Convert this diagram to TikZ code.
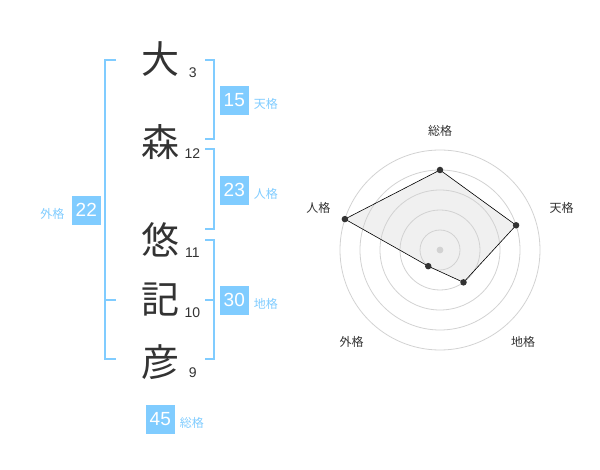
\documentclass[tikz,border=0pt]{standalone}
\usepackage{fontspec}
\setmainfont{Liberation Sans}
\newfontfamily\jpfont{Noto Sans CJK JP}
\usetikzlibrary{positioning}
\definecolor{kakublue}{RGB}{128,204,255}
\definecolor{inkgray}{RGB}{51,51,51}
\definecolor{ringgray}{RGB}{210,210,210}
\tikzset{
  kanji/.style = {font=\jpfont\fontsize{38}{38}\selectfont, text=inkgray, inner sep=0pt},
  strokes/.style = {font=\fontsize{14}{14}\selectfont, text=inkgray, inner sep=0pt},
  kakubox/.style = {fill=kakublue, text=white, minimum size=29pt, inner sep=0pt, font=\fontsize{19}{19}\selectfont},
  kakulabel/.style = {font=\jpfont\fontsize{12}{12}\selectfont, text=kakublue, inner sep=0pt},
  bracket/.style = {draw=kakublue, line width=1.8pt},
  ring/.style = {draw=ringgray, line width=0.8pt},
  radarlabel/.style = {font=\jpfont\fontsize{12}{12}\selectfont, text=inkgray, inner sep=0pt},
  dot/.style = {circle, fill=inkgray, minimum size=6.5pt, inner sep=0pt}
}
\begin{document}
\begin{tikzpicture}[x = 1pt, y = -1pt]
    \useasboundingbox (0,0) rectangle (600,470);
    % Draw the name
    \node[kanji] (k1) at (160,59.5) {大};
    \node[kanji] (k2) at (160,141.7) {森};
    \node[kanji] (k3) at (160,240) {悠};
    \node[kanji] (k4) at (160,300) {記};
    \node[kanji] (k5) at (160,361.7) {彦};
    % Stroke counts
    \node[strokes] (s1) at (192.7,72.7) {3};
    \node[strokes] (s2) at (192.3,153.3) {12};
    \node[strokes] (s3) at (192.3,252.7) {11};
    \node[strokes] (s4) at (192.3,312.7) {10};
    \node[strokes] (s5) at (192.7,372.7) {9};

    % Draw brackets
    \draw [bracket] (116,60) -- (105,60) -- (105,359.3) -- (116,359.3);
    \draw [bracket] (105,300) -- (116,300);
    \draw [bracket] (205,60) -- (214.3,60) -- (214.3,139.3) -- (205,139.3);
    \draw [bracket] (205,149.3) -- (214.3,149.3) -- (214.3,229.3) -- (205,229.3);
    \draw [bracket] (205,240) -- (214.3,240) -- (214.3,359.3) -- (205,359.3);
    \draw [bracket] (205,300) -- (214.3,300);

    % Boxes and their labels
    \node[kakubox] (ten) at (234.3,100.3) {15};
    \node[kakubox] (jin) at (234.3,190.3) {23};
    \node[kakubox] (chi) at (234.3,300.3) {30};
    \node[kakubox] (gai) at (86.3,210.3) {22};
    \node[kakubox] (sou) at (160.3,419.3) {45};
    \node[kakulabel, right = 4.6pt of ten, yshift = -3.5pt] (tenlabel) {天格};
    \node[kakulabel, right = 4.6pt of jin, yshift = -3.5pt] (jinlabel) {人格};
    \node[kakulabel, right = 4.6pt of chi, yshift = -3.5pt] (chilabel) {地格};
    \node[kakulabel, left = 7pt of gai, yshift = -3.5pt] (gailabel) {外格};
    \node[kakulabel, right = 4.6pt of sou, yshift = -3.5pt] (soulabel) {総格};

    % Draw radar chart
    \begin{scope}[shift = {(440,250)}]
        \coordinate (rsou) at (90:80pt);
        \coordinate (rten) at (18:80pt);
        \coordinate (rchi) at (-54:40pt);
        \coordinate (rgai) at (-126:20pt);
        \coordinate (rjin) at (162:100pt);
        \fill [black!6] (rsou) -- (rten) -- (rchi) -- (rgai) -- (rjin) -- cycle;
        \foreach \r in {20,40,60,80,100}
            \draw [ring] (0pt,0pt) circle (\r pt);
        \fill [ringgray] (0pt,0pt) circle (3.4pt);
        \draw [black, line width=0.6pt] (rsou) -- (rten) -- (rchi) -- (rgai) -- (rjin) -- cycle;
        \foreach \p in {rsou,rten,rchi,rgai,rjin}
            \node[dot] at (\p) {};
        \node[radarlabel] (lsou) at (0pt,119.3pt) {総格};
        \node[radarlabel] (lten) at (121.7pt,41.7pt) {天格};
        \node[radarlabel] (lchi) at (83pt,-91.7pt) {地格};
        \node[radarlabel] (lgai) at (-88.3pt,-91.7pt) {外格};
        \node[radarlabel] (ljin) at (-121.7pt,41.7pt) {人格};
    \end{scope}
\end{tikzpicture}
\end{document}
